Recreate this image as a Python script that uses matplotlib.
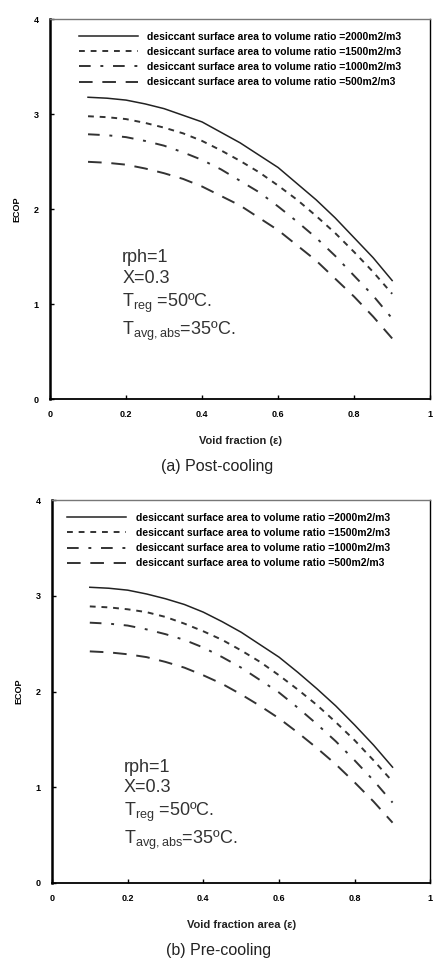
import matplotlib
matplotlib.use("Agg")
import matplotlib.pyplot as plt

plt.rcParams['font.family'] = ['Liberation Sans', 'DejaVu Sans']
plt.rcParams['mathtext.fontset'] = 'custom'
plt.rcParams['mathtext.rm'] = 'Liberation Sans'
plt.rcParams['mathtext.it'] = 'Liberation Sans:italic'

# void fraction values (read every 0.05)
void_fraction = [0.10, 0.15, 0.20, 0.25, 0.30, 0.35, 0.40, 0.45, 0.50,
                 0.55, 0.60, 0.65, 0.70, 0.75, 0.80, 0.85, 0.90]

ratio_labels = [
    "desiccant surface area to volume ratio =2000m2/m3",
    "desiccant surface area to volume ratio =1500m2/m3",
    "desiccant surface area to volume ratio =1000m2/m3",
    "desiccant surface area to volume ratio =500m2/m3",
]

# (a) post-cooling ECOP
post_2000 = [3.18, 3.17, 3.15, 3.11, 3.06, 2.99, 2.92, 2.81, 2.70,
             2.57, 2.44, 2.27, 2.10, 1.91, 1.70, 1.49, 1.25]
post_1500 = [2.98, 2.97, 2.95, 2.91, 2.86, 2.80, 2.72, 2.62, 2.51,
             2.39, 2.25, 2.10, 1.93, 1.75, 1.55, 1.34, 1.11]
post_1000 = [2.79, 2.78, 2.76, 2.72, 2.67, 2.60, 2.52, 2.42, 2.30,
             2.18, 2.03, 1.87, 1.70, 1.51, 1.30, 1.09, 0.85]
post_500 = [2.50, 2.49, 2.47, 2.43, 2.38, 2.32, 2.24, 2.14, 2.04,
            1.91, 1.78, 1.62, 1.46, 1.27, 1.08, 0.87, 0.64]

# (b) pre-cooling ECOP
pre_2000 = [3.09, 3.08, 3.06, 3.02, 2.97, 2.91, 2.83, 2.73, 2.62,
            2.49, 2.36, 2.20, 2.03, 1.85, 1.65, 1.44, 1.21]
pre_1500 = [2.89, 2.88, 2.86, 2.83, 2.78, 2.71, 2.63, 2.54, 2.43,
            2.31, 2.17, 2.02, 1.86, 1.68, 1.49, 1.28, 1.06]
pre_1000 = [2.72, 2.71, 2.69, 2.65, 2.60, 2.54, 2.46, 2.36, 2.25,
            2.12, 1.99, 1.83, 1.66, 1.48, 1.28, 1.07, 0.84]
pre_500 = [2.42, 2.41, 2.39, 2.36, 2.31, 2.25, 2.17, 2.08, 1.97,
           1.85, 1.72, 1.57, 1.41, 1.24, 1.05, 0.85, 0.63]

x_ticks = [0, 0.2, 0.4, 0.6, 0.8, 1]
x_tick_labels = ["0", "0.2", "0.4", "0.6", "0.8", "1"]
y_ticks = [0, 1, 2, 3, 4]

styles = [
    dict(linestyle='-', linewidth=1.1, color='#222222'),
    dict(linestyle=(0, (3, 3)), linewidth=1.4, color='#333333'),
    dict(linestyle=(0, (6, 5, 1.5, 5)), linewidth=1.4, color='#333333'),
    dict(linestyle=(0, (7, 5)), linewidth=1.4, color='#333333'),
]

fig = plt.figure(figsize=(4.33, 9.69), dpi=100)
ax_top = fig.add_axes([0.1155, 0.588, 0.878, 0.392])
ax_bot = fig.add_axes([0.120, 0.0888, 0.874, 0.395])

panels = [
    (ax_top, [post_2000, post_1500, post_1000, post_500],
     "Void fraction (ε)", "(a) Post-cooling", (0.075, 0.968), 0.395),
    (ax_bot, [pre_2000, pre_1500, pre_1000, pre_500],
     "Void fraction area (ε)", "(b) Pre-cooling", (0.04, 0.967), 0.325),
]

for ax, series, xlab, caption, leg_anchor, note_y in panels:
    for vals, st, lab in zip(series, styles, ratio_labels):
        ax.plot(void_fraction, vals, label=lab, **st)
    ax.set_xlim(0, 1)
    ax.set_ylim(0, 4)
    ax.set_xticks(x_ticks)
    ax.set_xticklabels(x_tick_labels)
    ax.set_yticks(y_ticks)
    ax.tick_params(direction='in', length=3, width=1, labelsize=6.5, pad=8)
    for lbl in ax.get_xticklabels() + ax.get_yticklabels():
        lbl.set_fontweight('bold')
    ax.spines['left'].set_linewidth(1.8)
    ax.spines['bottom'].set_linewidth(1.3)
    ax.spines['top'].set_linewidth(1.0)
    ax.spines['top'].set_color('#777777')
    ax.spines['right'].set_linewidth(1.0)
    ax.set_ylabel("ECOP", fontsize=6.5, fontweight='bold', labelpad=9)
    ax.set_xlabel(xlab, fontsize=8, fontweight='bold', labelpad=12,
                  color='#222222')
    ax.text(0.44, -0.158, caption, transform=ax.transAxes, ha='center',
            va='top', fontsize=11.5, color='#222222')
    ax.legend(loc='upper left', bbox_to_anchor=leg_anchor, frameon=False,
              handlelength=5.7, handletextpad=0.9, borderpad=0,
              borderaxespad=0, labelspacing=0.5,
              prop={'weight': 'bold', 'size': 7.5})
    ax.text(0.19, note_y,
            "rph=1\nX=0.3\n" + r"T$_{\mathregular{reg}}$ =50ºC." + "\n"
            + r"T$_{\mathregular{avg,abs}}$=35ºC.",
            transform=ax.transAxes, ha='left', va='top', fontsize=13,
            linespacing=1.3, color='#333333')

fig.savefig("out.png", dpi=100)
